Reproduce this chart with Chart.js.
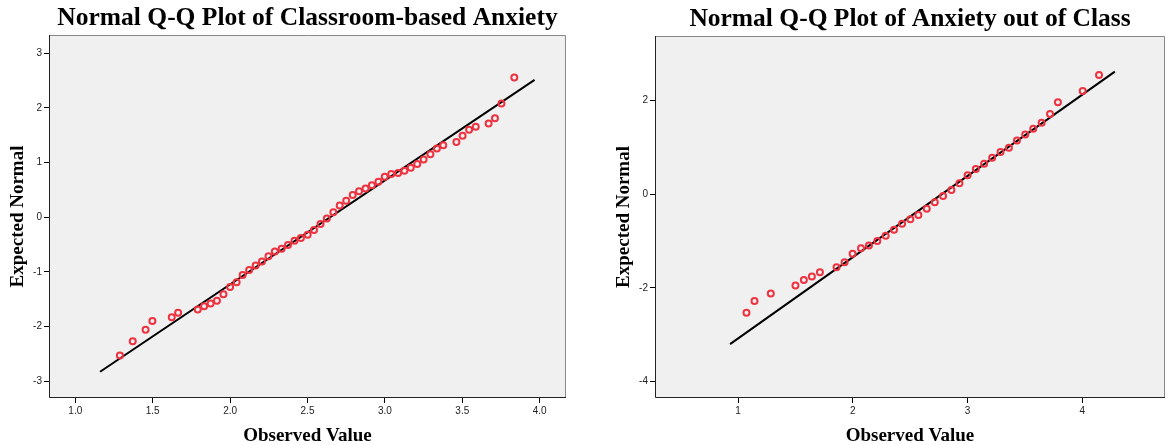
<!DOCTYPE html>
<html>
<head>
<meta charset="utf-8">
<script src="https://cdn.jsdelivr.net/npm/chart.js@4.4.1/dist/chart.umd.min.js"></script>
<style>
  html, body { margin: 0; padding: 0; background: #fff; }
  #wrap { position: relative; width: 1171px; height: 445px; }
  canvas { position: absolute; top: 0; }
  #left { left: 0; }
  #right { left: 586px; }
</style>
</head>
<body>
<div id="wrap">
  <canvas id="left" width="585" height="445"></canvas>
  <canvas id="right" width="585" height="445"></canvas>
</div>
<script>
// values

// Classroom-based anxiety
const leftObserved = [1.288, 1.371, 1.454, 1.498, 1.623, 1.664, 1.791, 1.832, 1.874, 1.915,
  1.957, 2.000, 2.042, 2.081, 2.123, 2.165, 2.206, 2.248, 2.289, 2.333,
  2.374, 2.416, 2.457, 2.501, 2.542, 2.584, 2.625, 2.667, 2.708, 2.750,
  2.792, 2.833, 2.875, 2.916, 2.958, 2.999, 3.041, 3.085, 3.126, 3.167,
  3.209, 3.250, 3.294, 3.336, 3.377, 3.462, 3.502, 3.544, 3.587, 3.670,
  3.711, 3.753, 3.836];
const leftExpected = [-2.53, -2.27, -2.06, -1.90, -1.83, -1.75, -1.69, -1.63, -1.58, -1.53,
  -1.41, -1.28, -1.19, -1.06, -0.965, -0.885, -0.81, -0.713, -0.627, -0.578,
  -0.51, -0.43, -0.381, -0.32, -0.234, -0.123, -0.025, 0.092, 0.215, 0.30,
  0.407, 0.474, 0.524, 0.585, 0.647, 0.739, 0.789, 0.807, 0.850, 0.906,
  0.973, 1.054, 1.152, 1.257, 1.319, 1.374, 1.491, 1.602, 1.657, 1.713,
  1.811, 2.083, 2.557];
const leftLineX = [1.16, 3.967];
const leftLineY = [-2.83, 2.514];
const leftXTicks = [1.0, 1.5, 2.0, 2.5, 3.0, 3.5, 4.0];
const leftYTicks = [-3, -2, -1, 0, 1, 2, 3];

// Anxiety out of class
const rightObserved = [1.073, 1.143, 1.285, 1.50, 1.573, 1.643, 1.713, 1.858, 1.928, 1.998,
  2.071, 2.140, 2.213, 2.286, 2.359, 2.429, 2.501, 2.571, 2.644, 2.714,
  2.786, 2.859, 2.929, 3.0, 3.072, 3.144, 3.214, 3.287, 3.36, 3.43,
  3.502, 3.572, 3.645, 3.718, 3.787, 4.003, 4.145];
const rightExpected = [-2.529, -2.279, -2.121, -1.95, -1.829, -1.757, -1.664, -1.557, -1.45, -1.271,
  -1.15, -1.093, -1.0, -0.886, -0.757, -0.63, -0.535, -0.44, -0.31, -0.17,
  -0.036, 0.093, 0.237, 0.409, 0.538, 0.652, 0.781, 0.903, 0.996, 1.147,
  1.276, 1.398, 1.527, 1.713, 1.964, 2.208, 2.545];
const rightLineX = [0.93, 4.283];
const rightLineY = [-3.2, 2.62];
const rightXTicks = [1, 2, 3, 4];
const rightYTicks = [-4, -2, 0, 2];

const SERIF = "'Liberation Serif', 'Times New Roman', serif";
const SANS = "'Liberation Sans', Arial, sans-serif";

// grey plot box like SPSS
const plotBox = {
    id: 'plotBox',
    beforeDatasetsDraw(chart) {
        const {ctx, chartArea: a} = chart;
        ctx.save();
        ctx.fillStyle = '#f0f0f0';
        ctx.fillRect(a.left, a.top, a.right - a.left, a.bottom - a.top);
        ctx.restore();
    },
    afterDraw(chart) {
        const {ctx, chartArea: a} = chart;
        ctx.save();
        ctx.lineWidth = 1;
        ctx.strokeStyle = '#888';
        ctx.beginPath();
        ctx.moveTo(a.left, a.top + 0.5);
        ctx.lineTo(a.right - 0.5, a.top + 0.5);
        ctx.lineTo(a.right - 0.5, a.bottom);
        ctx.stroke();
        ctx.strokeStyle = '#222';
        ctx.beginPath();
        ctx.moveTo(a.left + 0.5, a.top);
        ctx.lineTo(a.left + 0.5, a.bottom - 0.5);
        ctx.lineTo(a.right, a.bottom - 0.5);
        ctx.stroke();
        ctx.restore();
    }
};

function makeChart(id, opts) {
    const pts = opts.xs.map((x, i) => ({x: x, y: opts.ys[i]}));
    const line = opts.lineX.map((x, i) => ({x: x, y: opts.lineY[i]}));
    return new Chart(document.getElementById(id), {
        type: 'scatter',
        data: {
            datasets: [{
                data: pts,
                pointStyle: 'circle',
                pointRadius: 3,
                pointBorderWidth: 2,
                pointBorderColor: '#ee3340',
                pointBackgroundColor: 'rgba(0,0,0,0)'
            }, {
                data: line,
                showLine: true,
                pointRadius: 0,
                borderColor: '#000',
                borderWidth: 2
            }]
        },
        options: {
            responsive: false,
            animation: false,
            events: [],
            layout: { padding: { left: 0, right: opts.padRight, top: 0, bottom: 0 } },
            plugins: {
                legend: { display: false },
                tooltip: { enabled: false },
                title: {
                    display: true,
                    text: opts.title,
                    fullSize: false,
                    color: '#000',
                    font: { family: SERIF, size: 25.5, weight: 'bold' },
                    padding: { top: opts.titleTop, bottom: opts.titleBottom }
                }
            },
            scales: {
                x: {
                    type: 'linear',
                    min: opts.xMin,
                    max: opts.xMax,
                    afterFit(s) { s.height = 47; },
                    afterBuildTicks(s) { s.ticks = opts.xTicks.map(v => ({value: v})); },
                    grid: { drawOnChartArea: false, drawTicks: true, tickLength: 5, color: '#000' },
                    border: { display: false },
                    ticks: {
                        padding: 2,
                        color: '#222',
                        font: { family: SANS, size: 10 },
                        callback: opts.xFmt
                    },
                    title: {
                        display: true,
                        text: 'Observed Value',
                        color: '#000',
                        font: { family: SERIF, size: 19, weight: 'bold' },
                        padding: { top: 0, bottom: -2 }
                    }
                },
                y: {
                    type: 'linear',
                    min: opts.yMin,
                    max: opts.yMax,
                    afterFit(s) { s.width = opts.yWidth; },
                    afterBuildTicks(s) { s.ticks = opts.yTicks.map(v => ({value: v})); },
                    grid: { drawOnChartArea: false, drawTicks: true, tickLength: 5, color: '#000' },
                    border: { display: false },
                    ticks: {
                        padding: 2,
                        color: '#222',
                        font: { family: SANS, size: 10 }
                    },
                    title: {
                        display: true,
                        text: 'Expected Normal',
                        color: '#000',
                        font: { family: SERIF, size: 19, weight: 'bold' },
                        padding: { top: opts.yTitlePad, bottom: 0 }
                    }
                }
            }
        },
        plugins: [plotBox]
    });
}

makeChart('left', {
    title: 'Normal Q-Q Plot of Classroom-based Anxiety',
    xs: leftObserved, ys: leftExpected,
    lineX: leftLineX, lineY: leftLineY,
    xTicks: leftXTicks, yTicks: leftYTicks,
    xMin: 0.83, xMax: 4.17, yMin: -3.31, yMax: 3.335,
    xFmt: v => v.toFixed(1),
    yWidth: 49, padRight: 19,
    titleTop: 3, titleBottom: 1.4,
    yTitlePad: 7
});

makeChart('right', {
    title: 'Normal Q-Q Plot of Anxiety out of Class',
    xs: rightObserved, ys: rightExpected,
    lineX: rightLineX, lineY: rightLineY,
    xTicks: rightXTicks, yTicks: rightYTicks,
    xMin: 0.276, xMax: 4.72, yMin: -4.35, yMax: 3.38,
    xFmt: v => String(v),
    yWidth: 69, padRight: 2,
    titleTop: 4, titleBottom: 1.4,
    yTitlePad: 27
});
</script>
</body>
</html>
